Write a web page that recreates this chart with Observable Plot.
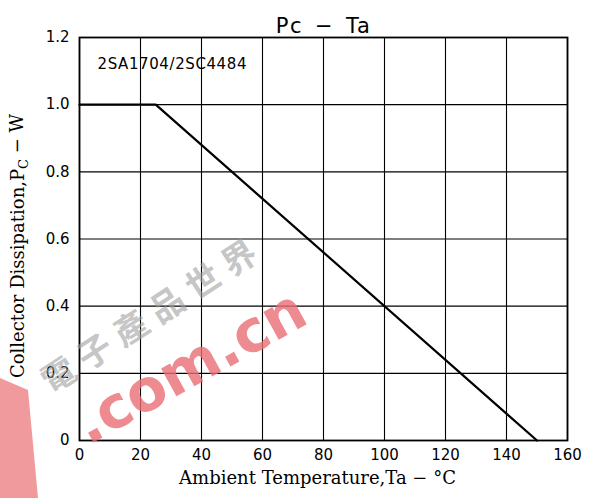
<!DOCTYPE html>
<html><head><meta charset="utf-8">
<script src="https://cdn.jsdelivr.net/npm/d3@7"></script>
<script src="https://cdn.jsdelivr.net/npm/@observablehq/plot@0.6"></script>
<style>
body{margin:0;background:#fff;}
#wrap{position:relative;width:591px;height:498px;overflow:hidden;}
.wm{position:absolute;pointer-events:none;white-space:nowrap;transform-origin:0 0;}
</style>
</head><body>
<div id="wrap"></div>
<script>
const title = "Pc\u2002\u2212\u2002Ta";
const part = "2SA1704/2SC4484";
const xTicks = [0, 20, 40, 60, 80, 100, 120, 140, 160];
const yTicks = [0, 0.2, 0.4, 0.6, 0.8, 1.0, 1.2];
const curveTa = [0, 25, 150];
const curvePc = [1.0, 1.0, 0];
const curve = curveTa.map((t, i) => ({t, p: curvePc[i]}));

const chart = Plot.plot({
  width: 591, height: 498,
  marginTop: 37, marginLeft: 79, marginRight: 24, marginBottom: 58,
  style: {background: "#fff", color: "#000", fontFamily: "DejaVu Sans, sans-serif"},
  x: {domain: [0, 160], ticks: xTicks, label: null},
  y: {domain: [0, 1.2], ticks: yTicks, label: null},
  marks: [
    Plot.gridX(xTicks, {stroke: "#000", strokeOpacity: 1, strokeWidth: 1.1}),
    Plot.gridY(yTicks, {stroke: "#000", strokeOpacity: 1, strokeWidth: 1.1}),
    Plot.frame({stroke: "#000", strokeWidth: 1.8}),
    Plot.axisX(xTicks, {tickSize: 0, tickPadding: 9, fontSize: 15, tickFormat: d => String(d), label: null}),
    Plot.axisY(yTicks, {tickSize: 0, tickPadding: 10, fontSize: 15, tickFormat: d => d === 0 ? "0" : d.toFixed(1), label: null}),
    Plot.line(curve, {x: "t", y: "p", stroke: "#000", strokeWidth: 2.2}),
    Plot.text([part], {frameAnchor: "top-left", dx: 18, dy: 21, fontSize: 15, textAnchor: "start", fill: "#000", className: "part"}),
    Plot.text([title], {frameAnchor: "top", dy: -19, fontSize: 21, fill: "#000", className: "ttl"}),
    Plot.text(["Ambient Temperature,Ta \u2212 \u00b0C"], {frameAnchor: "bottom", dy: 43, dx: -6, fontSize: 18, fontFamily: "DejaVu Serif, serif", fill: "#000"}),
    Plot.text(["Collector Dissipation,P"], {frameAnchor: "left", dx: -61, dy: 7, textAnchor: "middle", fontSize: 18, rotate: -90, fontFamily: "DejaVu Serif, serif", fill: "#000", className: "ylab"})
  ]
});
const wrap = document.getElementById("wrap");
wrap.appendChild(chart);
d3.select(chart).select(".part text").attr("letter-spacing", "0.6px");
d3.select(chart).select(".ttl text").attr("letter-spacing", "1.5px");
// y label with subscript
const yl = d3.select(chart).select(".ylab text");
if (!yl.empty()) {
  yl.text(null);
  yl.append("tspan").text("Collector Dissipation,P");
  yl.append("tspan").attr("font-size", 13).attr("dy", "0.3em").text("C");
  yl.append("tspan").attr("dy", "-0.3em").text(" \u2212 W");
}
// watermark overlay
const wedge = document.createElement("div");
wedge.className = "wm";
wedge.style.cssText += "left:0;top:0;width:591px;height:498px;background:rgba(236,120,126,0.75);clip-path:polygon(0 378px,28px 390px,38px 498px,0 498px);";
wrap.appendChild(wedge);
const cn = document.createElement("div");
cn.className = "wm";
cn.textContent = "\u96fb\u5b50\u7522\u54c1\u4e16\u754c";
cn.style.cssText += "left:30px;top:362px;font:bold 34px 'Noto Sans CJK TC';color:rgba(160,160,160,0.6);transform:rotate(-33deg);letter-spacing:9px;";
wrap.appendChild(cn);
const com = document.createElement("div");
com.className = "wm";
com.textContent = ".com.cn";
com.style.cssText += "left:62px;top:398px;font:bold 58px 'DejaVu Sans';color:rgba(232,110,118,0.8);transform:rotate(-29deg);";
wrap.appendChild(com);
</script>
</body></html>
